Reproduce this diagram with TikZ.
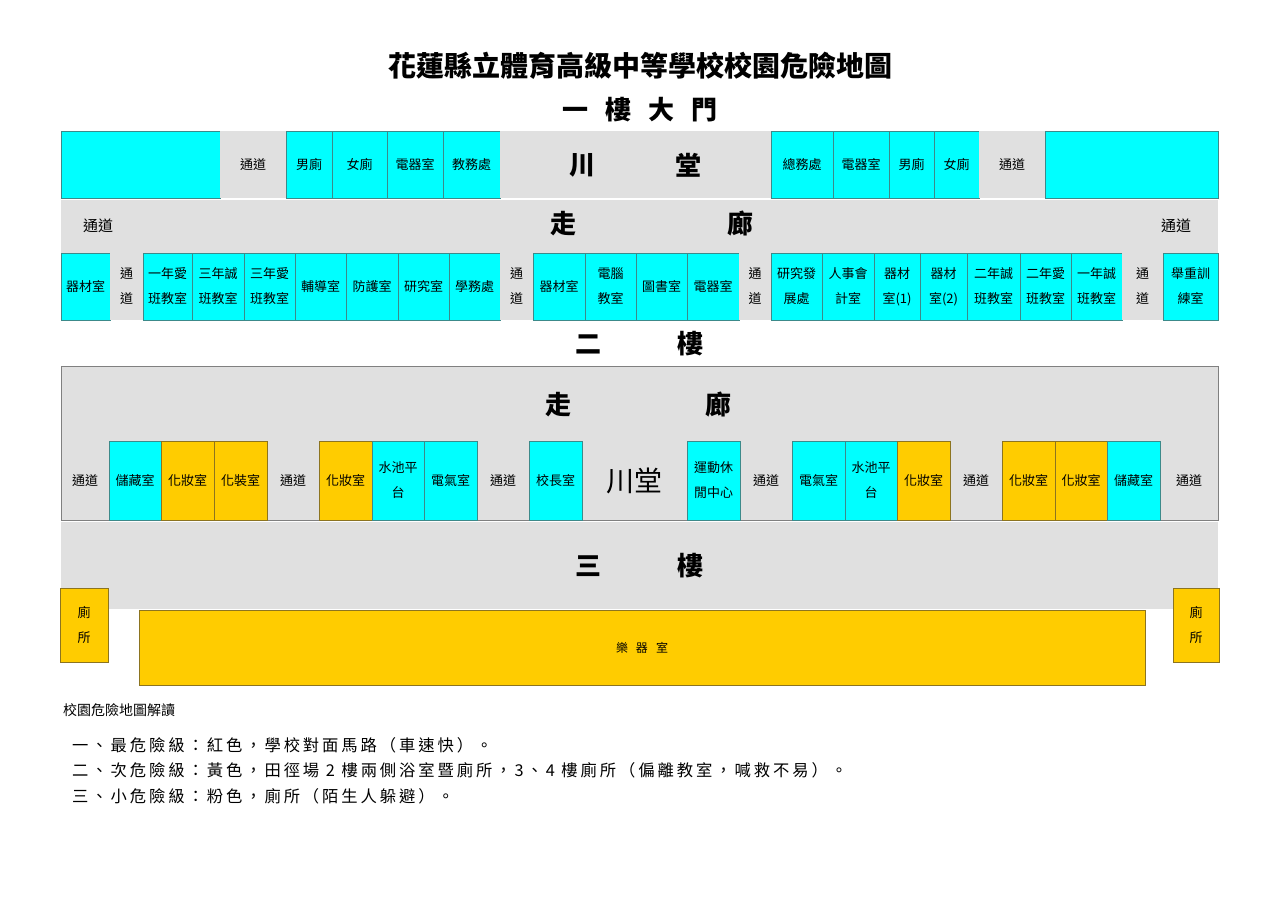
\documentclass[tikz,border=0pt]{standalone}
\usepackage{fontspec}
\setmainfont{Noto Sans CJK TC}
\newfontfamily\legendfont[LetterSpace=18]{Noto Sans CJK TC}
\definecolor{cy}{HTML}{00FFFF}
\definecolor{cyb}{HTML}{3C8A8A}
\definecolor{ye}{HTML}{FFCC00}
\definecolor{yeb}{HTML}{8C7420}
\definecolor{gr}{HTML}{E0E0E0}
\definecolor{grb}{HTML}{808080}
\tikzset{
  room/.style={inner sep=0pt, outer sep=0pt, line width=0.8pt, align=center,
    font=\fontsize{13}{25}\selectfont},
  cyroom/.style={room, fill=cy, draw=cyb},
  yeroom/.style={room, fill=ye, draw=yeb},
  grroom/.style={room, fill=gr},
  plainroom/.style={room},
  bigtext/.style={inner sep=0pt, font=\bfseries\fontsize{26}{30}\selectfont},
  midtext/.style={inner sep=0pt, font=\fontsize{15}{18}\selectfont},
  legtext/.style={inner sep=0pt, anchor=west, font=\legendfont\fontsize{16.3}{20}\selectfont},
}
\newcommand\roombox[7]{%
  \pgfmathsetmacro\rbw{#3-#2}%
  \pgfmathsetmacro\rbh{#5-#4}%
  \pgfmathsetmacro\rbx{(#2+#3)/2}%
  \pgfmathsetmacro\rby{(#4+#5)/2}%
  \node[#6, minimum width=\rbw pt, minimum height=\rbh pt] (#1) at (\rbx,\rby) {#7};}
\begin{document}
\begin{tikzpicture}[x=1pt,y=-1pt]
\useasboundingbox (0,0) rectangle (1280,904);
\fill[white] (0,0) rectangle (1280,904);

% Title
\node[inner sep=0pt, font=\bfseries\fontsize{28}{32}\selectfont] (title) at (640,66) {花蓮縣立體育高級中等學校校園危險地圖};
\node[inner sep=0pt, font=\bfseries\fontsize{26}{30}\selectfont] (f1label) at (640,110) {一\hspace{17pt}樓\hspace{17pt}大\hspace{17pt}門};

% ---- Floor 1 top row ----
\roombox{f1t1}{61}{220}{131}{198}{cyroom}{}
\roombox{f1t2}{220}{286}{131}{198}{grroom}{通道}
\roombox{f1t3}{286}{332}{131}{198}{cyroom}{男廁}
\roombox{f1t4}{332}{387}{131}{198}{cyroom}{女廁}
\roombox{f1t5}{387}{443}{131}{198}{cyroom}{電器室}
\roombox{f1t6}{443}{500}{131}{198}{cyroom}{教務處}
\roombox{f1t7}{500}{771}{131}{198}{grroom}{}
\roombox{f1t8}{771}{833}{131}{198}{cyroom}{總務處}
\roombox{f1t9}{833}{889}{131}{198}{cyroom}{電器室}
\roombox{f1t10}{889}{934}{131}{198}{cyroom}{男廁}
\roombox{f1t11}{934}{979}{131}{198}{cyroom}{女廁}
\roombox{f1t12}{979}{1045}{131}{198}{grroom}{通道}
\roombox{f1t13}{1045}{1218}{131}{198}{cyroom}{}
\node[bigtext] (f1chuan) at (582,165) {川};
\node[bigtext] (f1tang) at (688,165) {堂};

% ---- Floor 1 corridor ----
\roombox{f1c}{61}{1218}{200}{253}{grroom}{}
\node[midtext] (f1cp1) at (98,226) {通道};
\node[midtext] (f1cp2) at (1176,226) {通道};
\node[bigtext] (f1zou) at (563,224) {走};
\node[bigtext] (f1lang) at (740,224) {廊};

% ---- Floor 1 bottom row ----
\roombox{f1b1}{61}{110}{253}{320}{cyroom}{器材室}
\roombox{f1b2}{110}{143}{253}{320}{grroom}{通\\道}
\roombox{f1b3}{143}{192}{253}{320}{cyroom}{一年愛\\班教室}
\roombox{f1b4}{192}{244}{253}{320}{cyroom}{三年誠\\班教室}
\roombox{f1b5}{244}{295}{253}{320}{cyroom}{三年愛\\班教室}
\roombox{f1b6}{295}{346}{253}{320}{cyroom}{輔導室}
\roombox{f1b7}{346}{398}{253}{320}{cyroom}{防護室}
\roombox{f1b8}{398}{449}{253}{320}{cyroom}{研究室}
\roombox{f1b9}{449}{500}{253}{320}{cyroom}{學務處}
\roombox{f1b10}{500}{533}{253}{320}{grroom}{通\\道}
\roombox{f1b11}{533}{585}{253}{320}{cyroom}{器材室}
\roombox{f1b12}{585}{636}{253}{320}{cyroom}{電腦\\教室}
\roombox{f1b13}{636}{687}{253}{320}{cyroom}{圖書室}
\roombox{f1b14}{687}{739}{253}{320}{cyroom}{電器室}
\roombox{f1b15}{739}{771}{253}{320}{grroom}{通\\道}
\roombox{f1b16}{771}{822}{253}{320}{cyroom}{研究發\\展處}
\roombox{f1b17}{822}{874}{253}{320}{cyroom}{人事會\\計室}
\roombox{f1b18}{874}{920}{253}{320}{cyroom}{器材\\室(1)}
\roombox{f1b19}{920}{967}{253}{320}{cyroom}{器材\\室(2)}
\roombox{f1b20}{967}{1020}{253}{320}{cyroom}{二年誠\\班教室}
\roombox{f1b21}{1020}{1071}{253}{320}{cyroom}{二年愛\\班教室}
\roombox{f1b22}{1071}{1122}{253}{320}{cyroom}{一年誠\\班教室}
\roombox{f1b23}{1122}{1163}{253}{320}{grroom}{通\\道}
\roombox{f1b24}{1163}{1218}{253}{320}{cyroom}{舉重訓\\練室}

% ---- Floor 2 ----
\node[bigtext] (f2er) at (588,344) {二};
\node[bigtext] (f2lou) at (690,344) {樓};
\roombox{f2}{61}{1218}{366}{520}{room, fill=gr, draw=grb}{}
\node[bigtext] (f2zou) at (558,405) {走};
\node[bigtext] (f2lang) at (718,405) {廊};
\roombox{f2r1}{61}{109}{441}{520}{plainroom}{通道}
\roombox{f2r2}{109}{161}{441}{520}{cyroom}{儲藏室}
\roombox{f2r3}{161}{214}{441}{520}{yeroom}{化妝室}
\roombox{f2r4}{214}{267}{441}{520}{yeroom}{化裝室}
\roombox{f2r5}{267}{319}{441}{520}{plainroom}{通道}
\roombox{f2r6}{319}{372}{441}{520}{yeroom}{化妝室}
\roombox{f2r7}{372}{424}{441}{520}{cyroom}{水池平\\台}
\roombox{f2r8}{424}{477}{441}{520}{cyroom}{電氣室}
\roombox{f2r9}{477}{529}{441}{520}{plainroom}{通道}
\roombox{f2r10}{529}{582}{441}{520}{cyroom}{校長室}
\roombox{f2r11}{582}{687}{441}{520}{plainroom, font=\fontsize{28}{30}\selectfont}{川堂}
\roombox{f2r12}{687}{740}{441}{520}{cyroom}{運動休\\閒中心}
\roombox{f2r13}{740}{792}{441}{520}{plainroom}{通道}
\roombox{f2r14}{792}{845}{441}{520}{cyroom}{電氣室}
\roombox{f2r15}{845}{897}{441}{520}{cyroom}{水池平\\台}
\roombox{f2r16}{897}{950}{441}{520}{yeroom}{化妝室}
\roombox{f2r17}{950}{1002}{441}{520}{plainroom}{通道}
\roombox{f2r18}{1002}{1055}{441}{520}{yeroom}{化妝室}
\roombox{f2r19}{1055}{1107}{441}{520}{yeroom}{化妝室}
\roombox{f2r20}{1107}{1160}{441}{520}{cyroom}{儲藏室}
\roombox{f2r21}{1160}{1218}{441}{520}{plainroom}{通道}

% ---- Floor 3 ----
\roombox{f3}{61}{1218}{522}{609}{grroom}{}
\node[bigtext] (f3san) at (588,566) {三};
\node[bigtext] (f3lou) at (690,566) {樓};
\roombox{f3t1}{60}{108}{588}{662}{yeroom}{廁\\所}
\roombox{f3t2}{1173}{1219}{588}{662}{yeroom}{廁\\所}
\roombox{f3m}{139}{1145}{610}{685}{yeroom, font=\fontsize{12}{14}\selectfont}{樂\hspace{8pt}器\hspace{8pt}室}

% ---- Legend ----
\node[inner sep=0pt, anchor=west, font=\fontsize{14}{16}\selectfont] (leg0) at (63,710) {校園危險地圖解讀};
\node[legtext] (leg1) at (72,745) {一、最危險級：紅色，學校對面馬路（車速快）。};
\node[legtext] (leg2) at (72,770) {二、次危險級：黃色，田徑場 2 樓兩側浴室暨廁所，3、4 樓廁所（偏離教室，喊救不易）。};
\node[legtext] (leg3) at (72,796) {三、小危險級：粉色，廁所（陌生人躲避）。};
\end{tikzpicture}
\end{document}
